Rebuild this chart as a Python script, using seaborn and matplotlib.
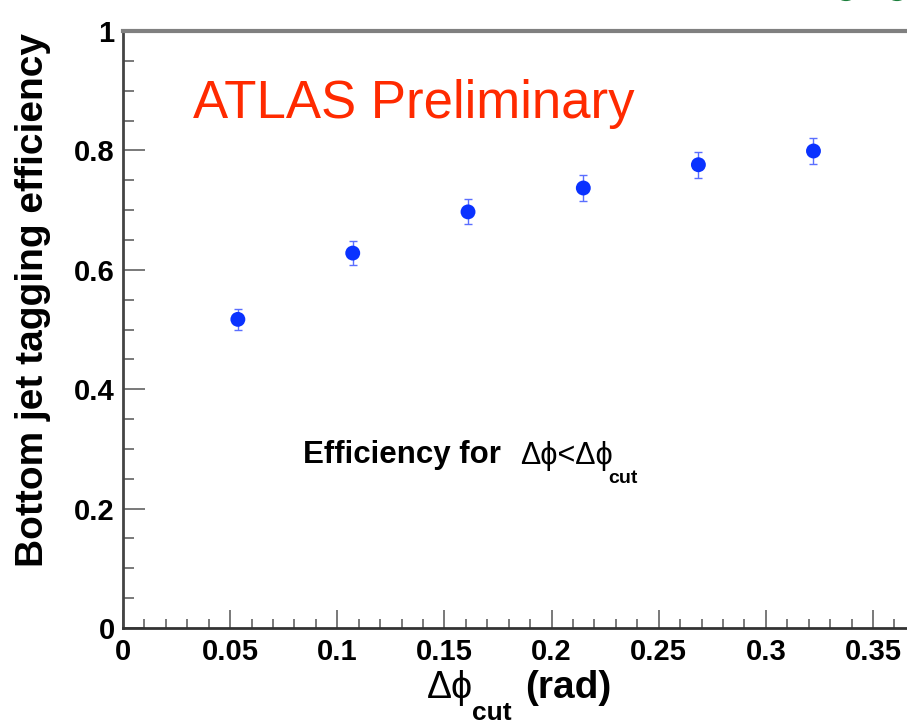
import matplotlib
matplotlib.use("Agg")
import matplotlib.pyplot as plt
from matplotlib.ticker import MultipleLocator
from matplotlib.patches import Ellipse
import pandas as pd
import seaborn as sns

# b-tagging efficiency versus the delta-phi cut
delta_phi_cut = [0.0536, 0.1072, 0.1610, 0.2148, 0.2685, 0.3222]
efficiency = [0.517, 0.628, 0.697, 0.737, 0.776, 0.799]
efficiency_err = [0.018, 0.020, 0.021, 0.022, 0.022, 0.022]

x_tick_values = [0, 0.05, 0.1, 0.15, 0.2, 0.25, 0.3, 0.35]
x_tick_labels = ["0", "0.05", "0.1", "0.15", "0.2", "0.25", "0.3", "0.35"]
y_tick_values = [0, 0.2, 0.4, 0.6, 0.8, 1.0]
y_tick_labels = ["0", "0.2", "0.4", "0.6", "0.8", "1"]

df = pd.DataFrame({"dphi": delta_phi_cut, "eff": efficiency, "err": efficiency_err})

sns.set_theme(style="white")
plt.rcParams["font.family"] = ["Liberation Sans", "DejaVu Sans"]
plt.rcParams["text.color"] = "black"

W, H = 907, 727
fig = plt.figure(figsize=(W / 100, H / 100), dpi=100)
fig.patch.set_facecolor("white")


def fx(px):
    return px / W


def fy(py):
    return 1 - py / H


# frame geometry in pixels
x_left, y_bottom, y_top = 123, 628, 31
px_per_unit = 2143.0

ax = fig.add_axes([fx(x_left), fy(y_bottom), (W - x_left) / W, (y_bottom - y_top) / H])
ax.set_facecolor("white")
ax.set_xlim(0, (W - x_left) / px_per_unit)
ax.set_ylim(0, 1)

ax.errorbar(df["dphi"], df["eff"], yerr=df["err"], fmt="none",
            ecolor="#5a6eff", elinewidth=1.0, capsize=3, capthick=1.0, zorder=2)
sns.scatterplot(data=df, x="dphi", y="eff", s=115, color="#0a32ff",
                edgecolor="none", linewidth=0, ax=ax, zorder=3)
ax.set_xlabel("")
ax.set_ylabel("")

ax.set_xticks(x_tick_values, labels=x_tick_labels)
ax.set_yticks(y_tick_values, labels=y_tick_labels)
ax.xaxis.set_minor_locator(MultipleLocator(0.01))
ax.yaxis.set_minor_locator(MultipleLocator(0.05))

ax.tick_params(which="both", direction="in", color="#555555", width=1.1,
               bottom=True, left=True, top=False, right=False)
ax.tick_params(axis="x", which="major", length=13, pad=7, labelsize=21)
ax.tick_params(axis="x", which="minor", length=6.5)
ax.tick_params(axis="y", which="major", length=16, pad=6, labelsize=21)
ax.tick_params(axis="y", which="minor", length=8)
for lab in ax.get_xticklabels() + ax.get_yticklabels():
    lab.set_fontweight("bold")
    lab.set_color("black")

ax.spines["right"].set_visible(False)
ax.spines["left"].set_color("#444444")
ax.spines["left"].set_linewidth(2.0)
ax.spines["bottom"].set_color("#333333")
ax.spines["bottom"].set_linewidth(2.0)
ax.spines["top"].set_color("#808080")
ax.spines["top"].set_linewidth(3.0)

# titles and labels
fig.text(fx(193), fy(118), "ATLAS Preliminary", color="#ff2a00",
         fontsize=38, ha="left", va="baseline")

fig.text(fx(303), fy(463), "Efficiency for ", fontweight="bold",
         fontsize=22.5, ha="left", va="baseline", color="black")
fig.text(fx(520), fy(464), "Δϕ<Δϕ", fontsize=22, ha="left", va="baseline",
         color="black", family=["Liberation Sans", "DejaVu Sans"])
fig.text(fx(608), fy(483), "cut", fontweight="bold", fontsize=14,
         ha="left", va="baseline", color="black")

fig.text(fx(427), fy(698), "Δϕ", fontsize=27, ha="left", va="baseline",
         color="black", family=["Liberation Sans", "DejaVu Sans"])
fig.text(fx(472), fy(720), "cut", fontweight="bold", fontsize=19,
         ha="left", va="baseline", color="black")
fig.text(fx(525), fy(698), "(rad)", fontweight="bold", fontsize=28,
         ha="left", va="baseline", color="black")

fig.text(fx(43), fy(300), "Bottom jet tagging efficiency", rotation=90,
         rotation_mode="anchor", ha="center", va="baseline",
         fontweight="bold", fontsize=28, color="black")

# corner logo fragments
for cx in (846, 897):
    fig.add_artist(Ellipse((fx(cx), fy(-12)), width=22 / W, height=22 / H,
                           transform=fig.transFigure, fill=False,
                           edgecolor="#1b7f3b", linewidth=3))

fig.savefig("out.png", dpi=100)
